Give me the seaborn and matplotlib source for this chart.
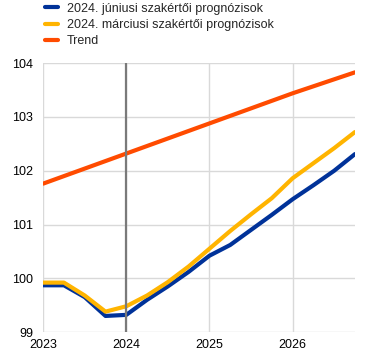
import numpy as np
import pandas as pd
import matplotlib
matplotlib.use("Agg")
import matplotlib.pyplot as plt
import seaborn as sns

# quarterly points, 2023Q1 .. 2026Q4
quarters = [2023.0, 2023.25, 2023.5, 2023.75, 2024.0, 2024.25, 2024.5, 2024.75,
            2025.0, 2025.25, 2025.5, 2025.75, 2026.0, 2026.25, 2026.5, 2026.75]
june = [99.87, 99.87, 99.65, 99.30, 99.32, 99.60, 99.85, 100.12,
        100.42, 100.62, 100.90, 101.18, 101.47, 101.73, 102.00, 102.31]
march = [99.92, 99.92, 99.68, 99.38, 99.48, 99.68, 99.93, 100.22,
         100.55, 100.88, 101.19, 101.49, 101.86, 102.14, 102.42, 102.72]
trend = [101.76, 101.90, 102.04, 102.18, 102.32, 102.46, 102.60, 102.74,
         102.88, 103.02, 103.16, 103.30, 103.44, 103.57, 103.70, 103.83]
labels = ["2024. júniusi szakértői prognózisok",
          "2024. márciusi szakértői prognózisok",
          "Trend"]
colors = ["#003299", "#FFB400", "#FF4B00"]
year_ticks = [2023, 2024, 2025, 2026]
y_ticks = [99, 100, 101, 102, 103, 104]

df = pd.concat([
    pd.DataFrame({"x": quarters, "y": june, "series": labels[0]}),
    pd.DataFrame({"x": quarters, "y": march, "series": labels[1]}),
    pd.DataFrame({"x": quarters, "y": trend, "series": labels[2]}),
])

sns.set_style("white")
plt.rcParams["font.family"] = ["Liberation Sans", "DejaVu Sans"]

fig = plt.figure(figsize=(3.85, 3.59), dpi=100)
ax = fig.add_axes([0.112, 0.075, 0.81, 0.749])

sns.lineplot(data=df, x="x", y="y", hue="series", palette=colors,
             linewidth=3, ax=ax, legend=False)
ax.axvline(2024, color="#7a7a7a", linewidth=1.6, zorder=3)

ax.set_xlim(2023, 2026.75)
ax.set_ylim(99, 104)
ax.set_xticks(year_ticks)
ax.set_xticklabels([str(t) for t in year_ticks])
ax.set_yticks(y_ticks)
ax.grid(True, color="#d9d9d9", linewidth=1)
ax.set_axisbelow(True)
for s in ax.spines.values():
    s.set_visible(False)
ax.tick_params(axis="y", length=0, labelsize=9, colors="#000000", pad=7)
ax.tick_params(axis="x", length=0, labelsize=9, colors="#000000", pad=5)
ax.set_xlabel("")
ax.set_ylabel("")

handles = [plt.Line2D([], [], color=c, linewidth=3) for c in colors]
fig.legend(handles, labels, loc="upper left", bbox_to_anchor=(0.104, 1.006),
           frameon=False, fontsize=9, handlelength=1.05, handletextpad=0.7,
           labelspacing=0.33, borderaxespad=0)

fig.savefig("out.png", dpi=100)
